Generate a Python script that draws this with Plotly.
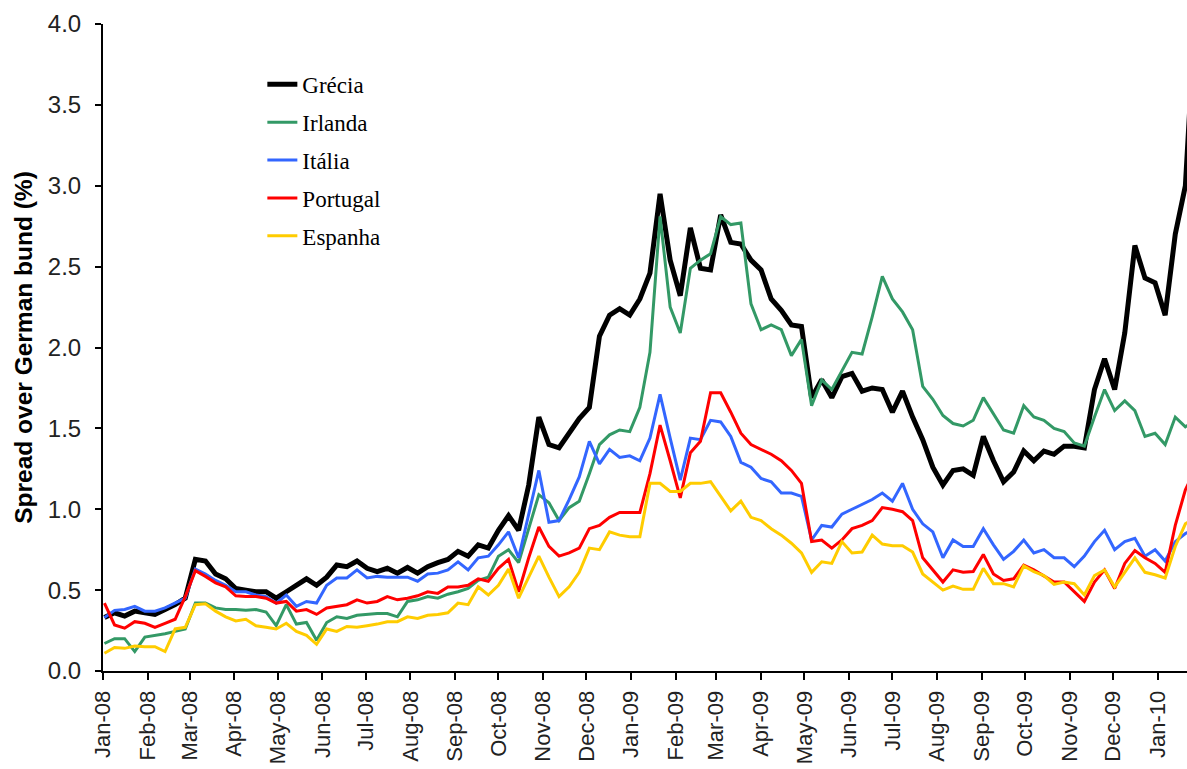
import pandas as pd
import plotly.graph_objects as go

# Weekly observations, Jan 2008 - Jan 2010
dates = pd.date_range("2008-01-02", periods=109, freq="7D")

grecia = [
    0.33, 0.36, 0.34, 0.37, 0.36, 0.35, 0.38, 0.41, 0.45, 0.69,
    0.68, 0.60, 0.57, 0.51, 0.50, 0.49, 0.49, 0.45, 0.49, 0.53,
    0.57, 0.53, 0.58, 0.655, 0.645, 0.68, 0.635, 0.615, 0.635, 0.605,
    0.64, 0.605, 0.645, 0.67, 0.69, 0.74, 0.71, 0.78, 0.76, 0.87,
    0.96, 0.87, 1.15, 1.57, 1.40, 1.38, 1.47, 1.56, 1.63, 2.07,
    2.20, 2.24, 2.20, 2.30, 2.46, 2.95, 2.54, 2.32, 2.74, 2.49,
    2.48, 2.82, 2.65, 2.64, 2.54, 2.48, 2.30, 2.23, 2.14, 2.13,
    1.69, 1.80, 1.69, 1.82, 1.84, 1.73, 1.75, 1.74, 1.60, 1.73,
    1.57, 1.43, 1.26, 1.15, 1.24, 1.25, 1.21, 1.45, 1.30, 1.17,
    1.23, 1.36, 1.30, 1.36, 1.34, 1.39, 1.39, 1.38, 1.74, 1.93,
    1.74, 2.09, 2.63, 2.43, 2.40, 2.20, 2.70, 3.00, 4.10,
]

irlanda = [
    0.17, 0.20, 0.20, 0.12, 0.21, 0.22, 0.23, 0.245, 0.26, 0.42,
    0.42, 0.39, 0.38, 0.38, 0.375, 0.38, 0.365, 0.28, 0.41, 0.29,
    0.30, 0.19, 0.30, 0.335, 0.325, 0.345, 0.35, 0.355, 0.355, 0.335,
    0.43, 0.44, 0.46, 0.45, 0.475, 0.49, 0.51, 0.56, 0.58, 0.71,
    0.75, 0.67, 0.88, 1.09, 1.04, 0.93, 1.01, 1.05, 1.22, 1.40,
    1.46, 1.49, 1.48, 1.63, 1.97, 2.81, 2.25, 2.09, 2.49, 2.54,
    2.58, 2.81, 2.76, 2.77, 2.27, 2.11, 2.14, 2.11, 1.95, 2.05,
    1.64, 1.80, 1.74, 1.86, 1.97, 1.96, 2.19, 2.44, 2.30, 2.22,
    2.11, 1.76, 1.68, 1.58, 1.53, 1.515, 1.55, 1.69, 1.59, 1.49,
    1.47, 1.64, 1.57, 1.55, 1.50, 1.48, 1.41, 1.39, 1.57, 1.74,
    1.61, 1.67, 1.61, 1.45, 1.47, 1.40, 1.57, 1.51, 1.55,
]

italia = [
    0.33, 0.375, 0.38, 0.40, 0.37, 0.37, 0.39, 0.42, 0.45, 0.63,
    0.60, 0.56, 0.53, 0.49, 0.49, 0.47, 0.46, 0.42, 0.47, 0.40,
    0.43, 0.42, 0.53, 0.575, 0.575, 0.625, 0.575, 0.585, 0.58, 0.58,
    0.58, 0.555, 0.60, 0.605, 0.625, 0.675, 0.625, 0.70, 0.71, 0.78,
    0.86, 0.70, 0.97, 1.24, 0.92, 0.93, 1.06, 1.20, 1.42, 1.28,
    1.37, 1.32, 1.33, 1.30, 1.44, 1.71, 1.44, 1.18, 1.44, 1.43,
    1.55, 1.54, 1.45, 1.29, 1.26, 1.19, 1.17, 1.10, 1.10, 1.08,
    0.81, 0.90, 0.89, 0.97, 1.00, 1.03, 1.06, 1.10, 1.05, 1.16,
    1.00, 0.91, 0.86, 0.70, 0.81, 0.77, 0.77, 0.88, 0.78, 0.69,
    0.74, 0.81, 0.73, 0.75, 0.70, 0.70, 0.645, 0.71, 0.80, 0.87,
    0.75, 0.80, 0.82, 0.71, 0.75, 0.68, 0.80, 0.85, 0.88,
]

portugal = [
    0.42, 0.285, 0.265, 0.305, 0.295, 0.27, 0.295, 0.32, 0.46, 0.62,
    0.585, 0.545, 0.52, 0.465, 0.46, 0.46, 0.45, 0.42, 0.43, 0.37,
    0.38, 0.35, 0.39, 0.40, 0.41, 0.44, 0.42, 0.43, 0.46, 0.44,
    0.45, 0.465, 0.49, 0.48, 0.52, 0.52, 0.53, 0.57, 0.555, 0.635,
    0.69, 0.49, 0.70, 0.89, 0.77, 0.71, 0.73, 0.76, 0.88, 0.90,
    0.95, 0.98, 0.98, 0.98, 1.22, 1.52, 1.30, 1.07, 1.35, 1.42,
    1.72, 1.72, 1.60, 1.47, 1.40, 1.37, 1.34, 1.30, 1.24, 1.16,
    0.80, 0.81, 0.76, 0.81, 0.88, 0.90, 0.93, 1.01, 1.00, 0.985,
    0.93, 0.70, 0.625, 0.55, 0.625, 0.61, 0.615, 0.72, 0.60, 0.56,
    0.57, 0.655, 0.625, 0.59, 0.55, 0.55, 0.49, 0.43, 0.55, 0.625,
    0.51, 0.665, 0.745, 0.70, 0.665, 0.61, 0.90, 1.12, 1.25,
]

espanha = [
    0.11, 0.145, 0.14, 0.155, 0.15, 0.15, 0.12, 0.26, 0.27, 0.41,
    0.415, 0.37, 0.335, 0.31, 0.32, 0.28, 0.27, 0.26, 0.295, 0.245,
    0.22, 0.165, 0.26, 0.245, 0.275, 0.27, 0.28, 0.29, 0.305, 0.305,
    0.335, 0.325, 0.345, 0.35, 0.36, 0.42, 0.41, 0.52, 0.47, 0.53,
    0.63, 0.45, 0.58, 0.71, 0.58, 0.46, 0.52, 0.61, 0.76, 0.75,
    0.86, 0.84, 0.83, 0.83, 1.16, 1.16, 1.11, 1.11, 1.16, 1.16,
    1.17, 1.08, 0.99, 1.05, 0.95, 0.93, 0.88, 0.84, 0.79, 0.73,
    0.61, 0.675, 0.665, 0.80, 0.73, 0.735, 0.84, 0.785, 0.775, 0.775,
    0.735, 0.60, 0.55, 0.50, 0.525, 0.505, 0.505, 0.635, 0.54, 0.54,
    0.52, 0.65, 0.615, 0.59, 0.535, 0.55, 0.54, 0.47, 0.59, 0.625,
    0.52, 0.61, 0.70, 0.61, 0.595, 0.575, 0.77, 0.91, 0.95,
]

series = [
    ("Grécia", grecia, "#000000", 5),
    ("Irlanda", irlanda, "#339966", 3),
    ("Itália", italia, "#3366FF", 3),
    ("Portugal", portugal, "#FF0000", 3),
    ("Espanha", espanha, "#FFCC00", 3),
]

fig = go.Figure()
for name, values, color, width in series:
    fig.add_trace(go.Scatter(
        x=dates, y=values, name=name, mode="lines",
        legendgroup=name,
        line=dict(color=color, width=width),
    ))

sans = "Liberation Sans, Arial, sans-serif"
x_tick_font = dict(family=sans, size=22, color="#222222")
y_tick_font = dict(family=sans, size=24, color="#222222")

fig.update_layout(
    width=1187, height=769,
    margin=dict(l=103, r=0, t=24, b=98),
    paper_bgcolor="white", plot_bgcolor="white",
    showlegend=True,
    legend=dict(
        x=0.147, y=0.94, xanchor="left", yanchor="top",
        font=dict(family="Liberation Serif, Times New Roman, serif", size=23, color="#000000"),
        bgcolor="rgba(0,0,0,0)", tracegroupgap=5,
    ),
    xaxis=dict(
        type="date", automargin=False,
        range=["2008-01-01", "2010-01-21 03:00"],
        tick0="2008-01-01", dtick="M1", tickformat="%b-%y",
        tickangle=-90, tickfont=x_tick_font, ticklabelstandoff=2,
        ticks="outside", ticklen=7, tickwidth=2, tickcolor="black",
        showline=True, linecolor="black", linewidth=2,
        showgrid=False, zeroline=False,
    ),
    yaxis=dict(
        automargin=False,
        range=[0, 4.0], dtick=0.5, tickformat=".1f",
        tickfont=y_tick_font, ticklabelstandoff=9,
        ticks="outside", ticklen=6, tickwidth=2, tickcolor="black",
        showline=True, linecolor="black", linewidth=2,
        showgrid=False, zeroline=False,
        title=dict(text="<b>Spread over German bund (%)</b>",
                   font=dict(family=sans, size=24.5, color="#000000"),
                   standoff=8),
    ),
)

fig.write_html("out.html")
